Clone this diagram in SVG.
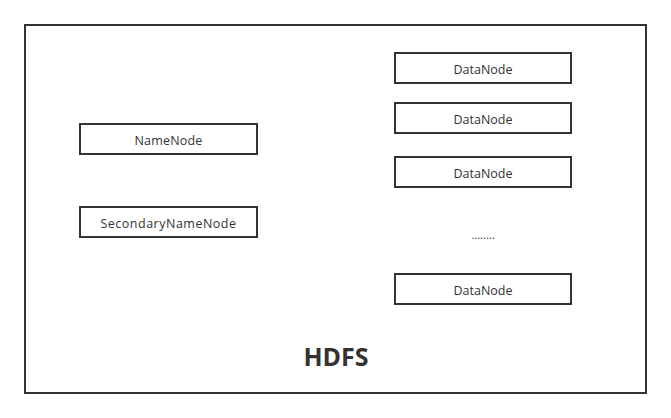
<svg xmlns="http://www.w3.org/2000/svg" width="671" height="418" viewBox="0 0 671 418">
<style>
.box{fill:#fff;stroke:#333;stroke-width:2}
.lbl{font-family:"Open Sans","Noto Sans",sans-serif;font-size:12.5px;fill:#333;text-anchor:middle}
.title{font-family:"Open Sans","Noto Sans",sans-serif;font-size:25px;font-weight:bold;fill:#333;text-anchor:middle}
</style>
<rect width="671" height="418" fill="#fff"/>
<g id="hdfs">
<rect class="box" x="25" y="25" width="621" height="368"/>
<text class="title" x="336" y="366">HDFS</text>
</g>
<g id="namenode">
<rect class="box" x="80" y="124" width="177" height="30"/>
<text class="lbl" x="168.5" y="145" style="letter-spacing:0.2px">NameNode</text>
</g>
<g id="secondarynamenode">
<rect class="box" x="80" y="207" width="177" height="30"/>
<text class="lbl" x="168.5" y="228" style="letter-spacing:0.5px">SecondaryNameNode</text>
</g>
<g id="datanode1">
<rect class="box" x="395" y="53" width="176" height="30"/>
<text class="lbl" x="483" y="74">DataNode</text>
</g>
<g id="datanode2">
<rect class="box" x="395" y="103" width="176" height="30"/>
<text class="lbl" x="483" y="124">DataNode</text>
</g>
<g id="datanode3">
<rect class="box" x="395" y="157" width="176" height="30"/>
<text class="lbl" x="483" y="178">DataNode</text>
</g>
<g id="ellipsis">
<text class="lbl" x="483" y="239" style="font-size:11px">........</text>
</g>
<g id="datanode4">
<rect class="box" x="395" y="274" width="176" height="30"/>
<text class="lbl" x="483" y="295">DataNode</text>
</g>
<g id="connectors"></g>
</svg>
